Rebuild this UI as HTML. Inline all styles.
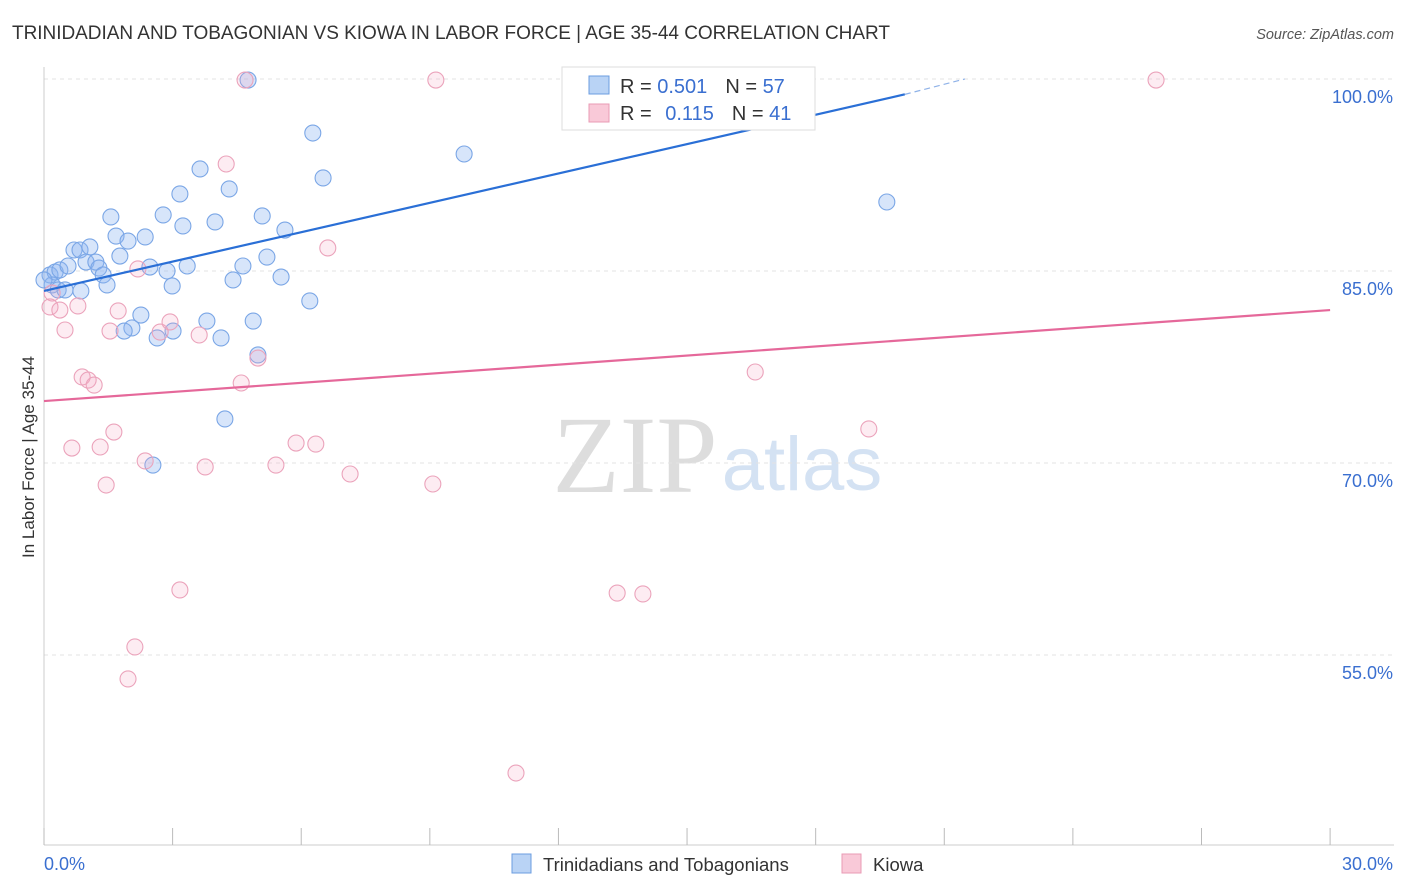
<!DOCTYPE html>
<html><head><meta charset="utf-8"><style>
body{margin:0;background:#fff;font-family:"Liberation Sans",sans-serif;}
svg{display:block}
</style></head><body>
<svg id="chart" width="1406" height="892">
<text x="12" y="39" font-size="19" fill="#333" textLength="878">TRINIDADIAN AND TOBAGONIAN VS KIOWA IN LABOR FORCE | AGE 35-44 CORRELATION CHART</text>
<text x="1394" y="39" font-size="14.5" fill="#555" font-style="italic" text-anchor="end">Source: ZipAtlas.com</text>
<text x="635" y="492" font-size="110" fill="#ddd" font-family="Liberation Serif,serif" text-anchor="middle">ZIP</text>
<text x="802" y="490" font-size="76" fill="#d4e2f3" text-anchor="middle">atlas</text>
<text transform="translate(34,457) rotate(-90)" font-size="17" fill="#333" text-anchor="middle">In Labor Force | Age 35-44</text>
<g id="grid"></g><g id="axes"></g><g id="pts"></g><g id="lines"></g>
<g>
<rect x="562" y="67" width="253" height="63" fill="#fff" stroke="#ddd"/>
<rect x="589" y="76" width="20" height="18" fill="#b9d3f5" stroke="#6b9de0"/>
<rect x="589" y="104" width="20" height="18" fill="#f9c9d8" stroke="#e99bb5"/>
<text x="620" y="93" font-size="20" fill="#333">R = <tspan fill="#3a6fd0">0.501</tspan><tspan dx="18">N = </tspan><tspan fill="#3a6fd0">57</tspan></text>
<text x="620" y="120" font-size="20" fill="#333">R = <tspan dx="8" fill="#3a6fd0">0.115</tspan><tspan dx="18">N = </tspan><tspan fill="#3a6fd0">41</tspan></text>
</g>
<g>
<rect x="512" y="854" width="19" height="19" fill="#b9d3f5" stroke="#6b9de0"/>
<text x="543" y="871" font-size="18.5" fill="#333">Trinidadians and Tobagonians</text>
<rect x="842" y="854" width="19" height="19" fill="#f9c9d8" stroke="#e99bb5"/>
<text x="873" y="871" font-size="18.5" fill="#333">Kiowa</text>
</g>
</svg>
<script>
const yTicks=[100,85,70,55];
const yTickLabels=["100.0%","85.0%","70.0%","55.0%"];
const xTicks=[0,3,6,9,12,15,18,21,24,27,30];
const blueX=[0.14,0.26,0.37,0.19,0.33,0.49,0.56,0.70,0.84,1.07,0.98,1.21,1.28,1.38,1.47,0.86,1.56,1.68,1.77,1.96,2.36,2.47,2.26,2.05,1.87,2.64,2.78,2.87,2.99,3.01,3.17,3.24,3.34,3.64,3.80,3.99,4.13,4.32,4.41,4.64,4.76,4.88,4.99,5.09,5.20,5.53,5.62,6.20,6.27,6.51,4.22,2.54,9.80,12.64,13.65,19.66,0];
const blueY=[84.69,84.92,85.08,83.91,83.52,83.52,85.39,86.64,86.64,86.88,85.70,85.70,85.23,84.69,83.91,83.44,89.22,87.73,86.17,87.34,87.66,85.31,81.56,80.55,80.31,79.77,89.38,85.0,83.83,80.31,91.02,88.52,85.39,92.97,81.09,88.83,79.77,91.41,84.30,85.39,99.92,81.09,78.44,89.30,86.09,84.53,88.2,82.66,95.78,92.27,73.44,69.84,94.14,97.97,99.92,90.39,84.30];
const pinkX=[0.19,0.14,0.37,0.49,0.79,0.89,1.03,1.17,0.65,1.31,1.45,1.63,1.54,1.73,2.19,2.36,2.71,2.94,3.17,2.12,1.96,3.62,3.76,4.25,4.60,4.69,4.99,5.41,5.88,6.34,6.62,7.14,9.07,9.14,11.01,13.37,13.97,16.17,16.59,19.24,25.94];
const pinkY=[83.28,82.19,81.95,80.39,82.27,76.72,76.48,76.09,71.17,71.25,68.28,72.42,80.31,81.88,85.16,70.16,80.23,81.02,60.08,55.63,53.13,80.0,69.69,93.36,76.25,99.92,78.2,69.84,71.56,71.48,86.8,69.14,68.36,99.92,45.78,59.84,59.77,99.92,77.11,72.66,99.92];
const blueFit=[83.44,98.8,100]; const blueFitX=[0,20.08,21.48];
const pinkFit=[74.84,81.95]; const pinkFitX=[0,30];
const NS="http://www.w3.org/2000/svg";
const X=v=>44+v*42.87, Y=v=>79+(100-v)*12.8;
function mk(t,a,p){const e=document.createElementNS(NS,t);for(const k in a)e.setAttribute(k,a[k]);document.getElementById(p).appendChild(e);return e;}
yTicks.forEach((t,i)=>{
 const l=mk('line',{x1:44,x2:1394,y1:Y(t),y2:Y(t),stroke:'#e3e3e3','stroke-dasharray':'4,4'},'grid');
 
 
 const tx=mk('text',{x:1393,y:Y(t)+24,'font-size':18,fill:'#3a6fd0','text-anchor':'end'},'grid');
 tx.textContent=yTickLabels[i];
 
 
});
const ax=mk('line',{x1:44,x2:44,y1:67,y2:845,stroke:'#ccc'},'axes');


const bx=mk('line',{x1:44,x2:1394,y1:845,y2:845,stroke:'#ccc'},'axes');


xTicks.forEach(t=>{const l=mk('line',{x1:X(t),x2:X(t),y1:828,y2:845,stroke:'#bbb'},'axes');
 
 });
[["0.0%",44,'start'],["30.0%",1393,'end']].forEach(([s,x,a])=>{const t=mk('text',{x:x,y:870,'font-size':18,fill:'#3a6fd0','text-anchor':a},'axes');t.textContent=s;
 
 });
blueX.forEach((v,i)=>{const c=mk('circle',{cx:X(v),cy:Y(blueY[i]),r:8,fill:'rgba(140,180,240,0.35)',stroke:'#7aa6e6','stroke-width':1.1},'pts');
 
 });
pinkX.forEach((v,i)=>{const c=mk('circle',{cx:X(v),cy:Y(pinkY[i]),r:8,fill:'rgba(245,170,195,0.22)',stroke:'#eba3bb','stroke-width':1.1},'pts');
 
 });
const b1=mk('line',{x1:X(blueFitX[0]),y1:Y(blueFit[0]),x2:X(blueFitX[1]),y2:Y(blueFit[1]),stroke:'#2a6fd6','stroke-width':2.2},'lines');


const b2=mk('line',{x1:X(blueFitX[1]),y1:Y(blueFit[1]),x2:X(blueFitX[2]),y2:Y(blueFit[2]),stroke:'#8fb2e8','stroke-width':1.2,'stroke-dasharray':'6,4'},'lines');


const p1=mk('line',{x1:X(pinkFitX[0]),y1:Y(pinkFit[0]),x2:X(pinkFitX[1]),y2:Y(pinkFit[1]),stroke:'#e5689a','stroke-width':2.2},'lines');


</script>
</body></html>
